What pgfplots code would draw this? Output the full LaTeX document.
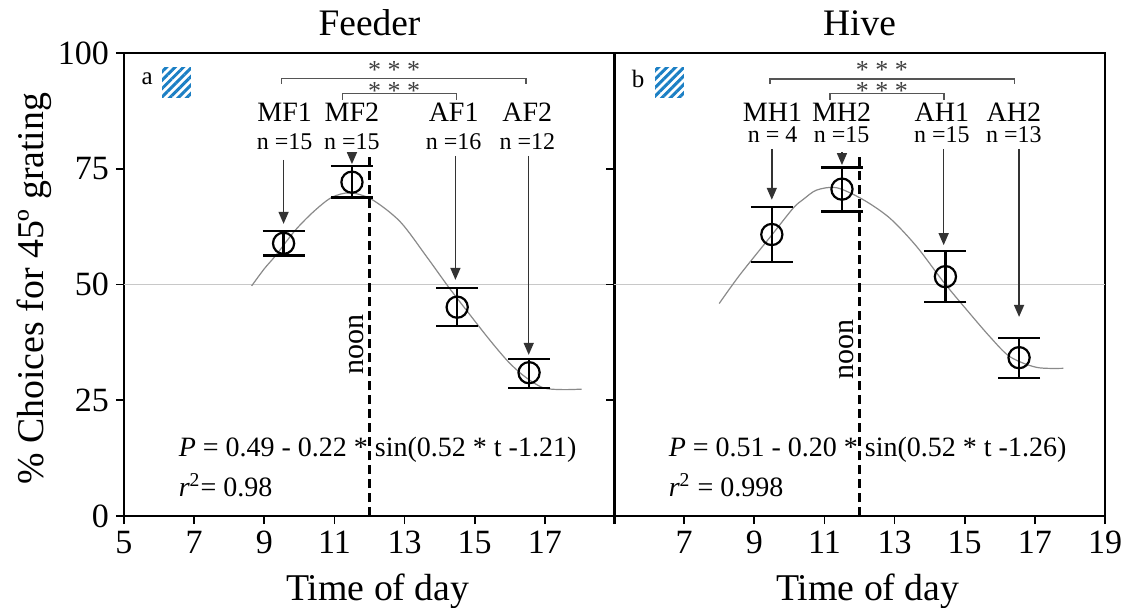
\documentclass[border=0pt]{standalone}
\usepackage{fontspec}
\setmainfont{Liberation Serif}
\usepackage{pgfplots}
\pgfplotsset{compat=1.18}
\usetikzlibrary{arrows.meta,patterns.meta}
\definecolor{hatchblue}{HTML}{1B7FC4}
\definecolor{curvegray}{HTML}{8A8A8A}
\definecolor{refgray}{HTML}{C8C8C8}
\definecolor{brgray}{HTML}{555555}
\definecolor{arrgray}{HTML}{333333}

\tikzset{
 arr/.style={arrgray, line width=0.75pt, -{Triangle[length=6pt,width=5pt]}},
 brk/.style={brgray, line width=0.6pt},
 lab/.style={font=\fontsize{14}{14}\selectfont, anchor=base},
 nlab/.style={font=\fontsize{12}{12}\selectfont, anchor=base},
 stars/.style={font=\fontsize{13}{13}\selectfont, black!75, inner sep=0pt},
 eq/.style={font=\fontsize{14}{14}\selectfont, anchor=base west},
}
\pgfplotsset{
 panel/.style={
  scale only axis, width=245.5pt, height=231.5pt,
  xmin=5, xmax=19, ymin=0, ymax=100,
  xtick={5,7,...,19},
  ytick={0,25,50,75,100},
  tick align=outside, xtick pos=bottom, ytick pos=left,
  major tick length=4pt,
  axis line style={line width=0.9pt},
  every tick/.style={line width=0.9pt, black},
  tick label style={font=\fontsize{17}{17}\selectfont},
  label style={font=\fontsize{18.9}{19}\selectfont},
  title style={font=\fontsize{18.7}{19}\selectfont, at={(0.5,1)}, anchor=base, yshift=3pt},
  xlabel style={at={(axis description cs:0.517,0)}, anchor=base, yshift=-42pt},
  /pgf/number format/assume math mode=true,
  clip=false,
 },
 fitcurve/.style={curvegray, line width=0.6pt, smooth, no marks},
 datapts/.style={black, line width=1.1pt, only marks, mark=o, mark size=5.3pt,
   error bars/.cd, y dir=both, y explicit,
   error bar style={line width=1.2pt},
   error mark options={rotate=90, mark size=10.5pt, line width=1.2pt}},
}

\begin{document}
\begin{tikzpicture}
\path[use as bounding box] (-62pt,-45.5pt) rectangle (498.5pt,258pt);

% ---------------- Feeder ----------------
\begin{axis}[panel, at={(0,0)}, anchor=south west,
  title={Feeder}, xlabel={Time of day},
  ylabel={\% Choices for 45º grating},
  ylabel style={at={(axis description cs:-0.183,0.491)}, anchor=center},
  xticklabels={5,7,9,11,13,15,17,}]
\draw[refgray, line width=0.6pt] (axis cs:5,50) -- (axis cs:19,50);
\addplot[fitcurve] coordinates {
 (8.64,49.7) (9.0,53.4) (9.33,56.3) (9.87,61.6) (10.4,65.7) (10.92,68.8)
 (11.44,69.8) (12.06,68.4) (12.87,63.6) (13.63,56.0) (14.25,49.5)
 (14.87,43.4) (15.43,38.0) (15.96,33.3) (16.43,30.1) (16.95,27.7)
 (17.5,27.3) (18.05,27.4)};
\draw[black, line width=1.3pt, dash pattern=on 4.5pt off 2.5pt] (axis cs:12,0) -- (axis cs:12,78.5);
\addplot[datapts] coordinates {
 (9.55,58.9) += (0,2.7) -= (0,2.6)
 (11.5,72.1) += (0,3.5) -= (0,3.3)
 (14.5,45.1) += (0,4.2) -= (0,4.1)
 (16.55,30.95) += (0,2.9) -= (0,3.3)};
% arrows
\draw[arr] (axis cs:9.55,76.9) -- (axis cs:9.55,63.1);
\draw[arr] (axis cs:11.5,78.3) -- (axis cs:11.5,76.0);
\draw[arr] (axis cs:14.45,77.8) -- (axis cs:14.45,51.0);
\draw[arr] (axis cs:16.54,77.8) -- (axis cs:16.54,34.8);
% labels
\node[lab] at (axis cs:9.58,85.3) {MF1};
\node[lab] at (axis cs:11.5,85.3) {MF2};
\node[lab] at (axis cs:14.4,85.3) {AF1};
\node[lab] at (axis cs:16.5,85.3) {AF2};
\node[nlab] at (axis cs:9.58,79.2) {n =15};
\node[nlab] at (axis cs:11.5,79.2) {n =15};
\node[nlab] at (axis cs:14.4,79.2) {n =16};
\node[nlab] at (axis cs:16.5,79.2) {n =12};
% brackets
\draw[brk] (axis cs:9.48,93.4) -- (axis cs:9.48,94.5) -- (axis cs:16.46,94.5) -- (axis cs:16.46,93.4);
\draw[brk] (axis cs:11.22,89.9) -- (axis cs:11.22,91.3) -- (axis cs:14.48,91.3) -- (axis cs:14.48,89.9);
\node[stars] at (axis cs:12.7,96.4) {* * *};
\node[stars] at (axis cs:12.7,91.9) {* * *};
% panel letter + hatch
\node[font=\fontsize{12.5}{13}\selectfont] at (axis cs:5.66,94.4) {a};
\fill[pattern={Lines[angle=45,distance=3pt,line width=1.5pt]}, pattern color=hatchblue]
  (axis cs:6.09,90.4) rectangle (axis cs:6.91,96.8);
% noon
\node[rotate=90, font=\fontsize{15}{15}\selectfont] at (axis cs:11.62,37.1) {noon};
% equation
\node[eq] at (axis cs:6.36,12.9) {\textit{P} = 0.49 - 0.22 * sin(0.52 * t -1.21)};
\node[eq] at (axis cs:6.36,4.2) {\textit{r}\textsuperscript{2}= 0.98};
\end{axis}

% ---------------- Hive ----------------
\begin{axis}[panel, at={(245pt,0)}, anchor=south west,
  title={Hive}, xlabel={Time of day},
  xticklabels={,7,9,11,13,15,17,19}, yticklabels={}]
\draw[refgray, line width=0.6pt] (axis cs:5,50) -- (axis cs:19,50);
\addplot[fitcurve] coordinates {
 (8.0,45.9) (8.59,52.1) (9.5,60.7) (10.11,66.5) (10.4,68.4) (10.78,70.4)
 (11.35,70.9) (12.11,68.3) (12.87,64.3) (13.63,58.2) (14.39,50.6)
 (15.06,44.5) (15.72,38.7) (16.29,34.4) (17.05,32.1) (17.81,31.9)};
\draw[black, line width=1.3pt, dash pattern=on 4.5pt off 2.5pt] (axis cs:12,0) -- (axis cs:12,78.4);
\addplot[datapts] coordinates {
 (9.5,60.8) += (0,6.0) -= (0,5.9)
 (11.5,70.6) += (0,4.7) -= (0,4.8)
 (14.45,51.7) += (0,5.5) -= (0,5.5)
 (16.55,34.2) += (0,4.3) -= (0,4.4)};
% arrows
\draw[arr] (axis cs:9.5,79.3) -- (axis cs:9.5,68.3);
\draw[arr] (axis cs:11.5,78.6) -- (axis cs:11.5,75.8);
\draw[arr] (axis cs:14.4,79.3) -- (axis cs:14.4,58.5);
\draw[arr] (axis cs:16.55,79.3) -- (axis cs:16.55,43.0);
% labels
\node[lab] at (axis cs:9.52,85.3) {MH1};
\node[lab] at (axis cs:11.49,85.3) {MH2};
\node[lab] at (axis cs:14.35,85.3) {AH1};
\node[lab] at (axis cs:16.4,85.3) {AH2};
\node[nlab] at (axis cs:9.52,80.6) {n = 4};
\node[nlab] at (axis cs:11.49,80.6) {n =15};
\node[nlab] at (axis cs:14.35,80.6) {n =15};
\node[nlab] at (axis cs:16.4,80.6) {n =13};
% brackets
\draw[brk] (axis cs:9.45,93.4) -- (axis cs:9.45,94.4) -- (axis cs:16.43,94.4) -- (axis cs:16.43,93.4);
\draw[brk] (axis cs:11.16,89.9) -- (axis cs:11.16,91.3) -- (axis cs:14.41,91.3) -- (axis cs:14.41,89.9);
\node[stars] at (axis cs:12.64,96.4) {* * *};
\node[stars] at (axis cs:12.64,91.9) {* * *};
% panel letter + hatch
\node[font=\fontsize{12.5}{13}\selectfont] at (axis cs:5.69,94.4) {b};
\fill[pattern={Lines[angle=45,distance=3pt,line width=1.5pt]}, pattern color=hatchblue]
  (axis cs:6.17,90.4) rectangle (axis cs:6.99,96.8);
% noon
\node[rotate=90, font=\fontsize{15}{15}\selectfont] at (axis cs:11.63,35.9) {noon};
% equation
\node[eq] at (axis cs:6.36,12.9) {\textit{P} = 0.51 - 0.20 * sin(0.52 * t -1.26)};
\node[eq] at (axis cs:6.36,4.2) {\textit{r}\textsuperscript{2} = 0.998};
\end{axis}
\end{tikzpicture}
\end{document}
